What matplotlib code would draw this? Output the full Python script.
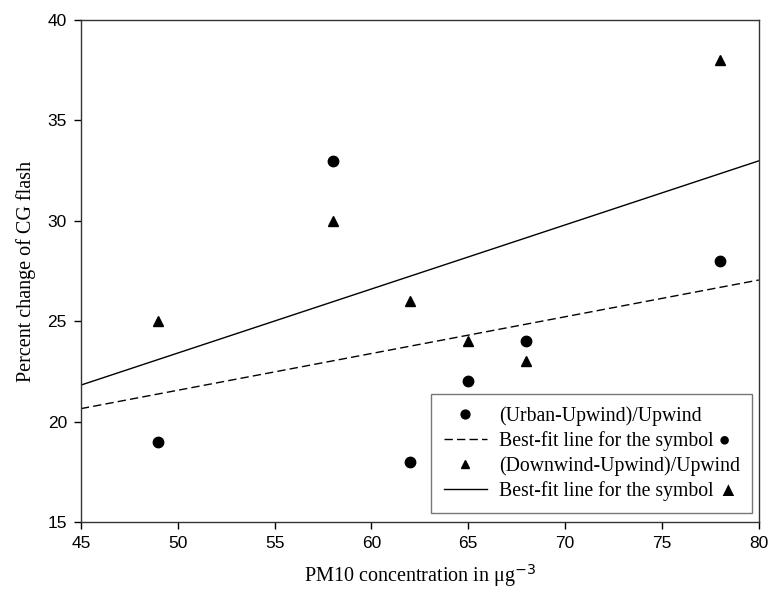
import numpy as np
import matplotlib
matplotlib.use("Agg")
import matplotlib.pyplot as plt

pm10 = [49, 58, 62, 65, 68, 78]
urban_upwind = [19, 33, 18, 22, 24, 28]
downwind_upwind = [25, 30, 26, 24, 23, 38]
xticks = [45, 50, 55, 60, 65, 70, 75, 80]
yticks = [15, 20, 25, 30, 35, 40]

fig = plt.figure(figsize=(7.7, 5.97), dpi=100)
ax = fig.add_axes([0.105, 0.1256, 0.8805, 0.841])

xl = np.array([45, 80])
c1 = np.polyfit(pm10, urban_upwind, 1)
c2 = np.polyfit(pm10, downwind_upwind, 1)

ax.plot(pm10, urban_upwind, 'o', color='black', markersize=7.5, label='(Urban-Upwind)/Upwind')
ax.plot(xl, np.polyval(c1, xl), '--', color='black', lw=1.0, dashes=(6, 3),
        label='Best-fit line for the symbol \u25CF')
ax.plot(pm10, downwind_upwind, '^', color='black', markersize=7.5, label='(Downwind-Upwind)/Upwind')
ax.plot(xl, np.polyval(c2, xl), '-', color='black', lw=1.0,
        label='Best-fit line for the symbol \u25B2')

ax.set_xlim(45, 80)
ax.set_ylim(15, 40)
ax.set_xticks(xticks)
ax.set_yticks(yticks)
ax.tick_params(direction='out', length=5, width=1, labelsize=12.5, pad=5)
for lab in ax.get_xticklabels() + ax.get_yticklabels():
    lab.set_fontfamily('Liberation Sans')
for s in ax.spines.values():
    s.set_linewidth(1.0)
    s.set_color('#333333')

serif = 'Liberation Serif'
ax.set_xlabel('PM10 concentration in \u03bcg$^{-3}$', fontfamily=serif, fontsize=14.5, labelpad=8)
ax.set_ylabel('Percent change of CG flash', fontfamily=serif, fontsize=14.5, labelpad=8)

leg = ax.legend(loc='lower right', bbox_to_anchor=(0.99, 0.018),
                prop={'family': [serif, 'DejaVu Sans'], 'size': 14.2},
                frameon=True, fancybox=False, edgecolor='#555555', handlelength=2.2,
                handletextpad=0.6, borderpad=0.62, labelspacing=0.26, borderaxespad=0.0,
                markerscale=0.85)
leg.get_frame().set_linewidth(1.0)

fig.savefig('out.png', dpi=100)
